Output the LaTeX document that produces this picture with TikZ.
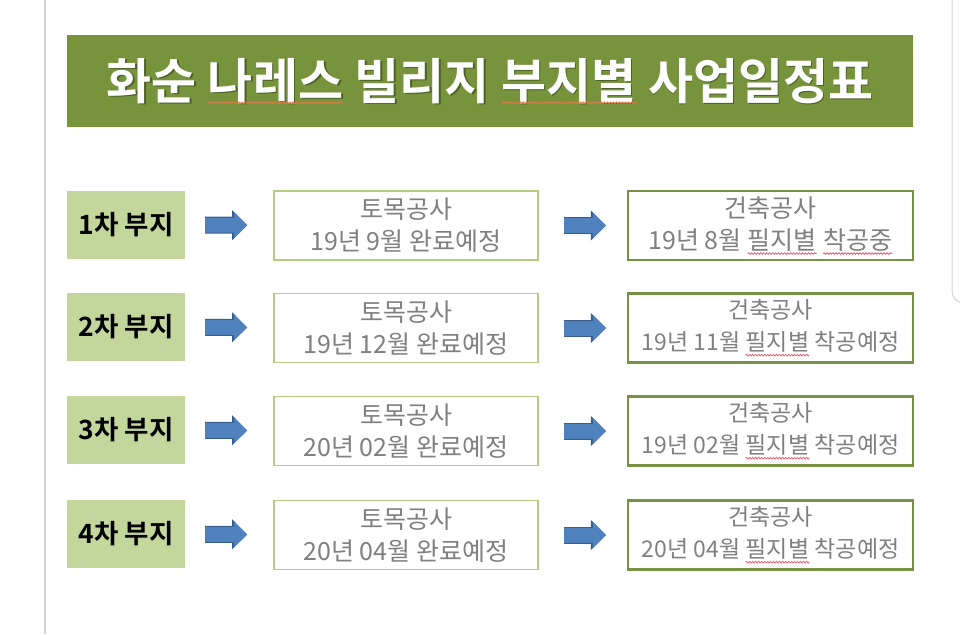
\documentclass[tikz,border=0pt]{standalone}
\usepackage{fontspec}
\setmainfont{Noto Sans CJK KR}[BoldFont={Noto Sans CJK KR Bold}]
\usetikzlibrary{arrows.meta, decorations.pathmorphing}
\definecolor{bannergreen}{RGB}{119,148,60}
\definecolor{sitegreen}{RGB}{195,214,155}
\definecolor{civilgreen}{RGB}{181,205,128}
\definecolor{buildgreen}{RGB}{120,146,68}
\definecolor{arrowblue}{RGB}{79,129,189}
\definecolor{arrowedge}{RGB}{56,93,138}
\definecolor{textgray}{RGB}{128,128,128}
\definecolor{spellred}{RGB}{232,90,110}
\definecolor{spellorange}{RGB}{226,120,70}
\definecolor{framegray}{RGB}{212,212,212}
\tikzset{
  wavebox/.style={draw=none, fill=none, minimum width=0pt, minimum height=0pt, inner sep=0pt, outer sep=0pt, align=left},
  waveline/.style={line width=0.8pt, decorate, decoration={snake, amplitude=0.8pt, segment length=3pt}},
}
\newcommand{\spellwave}[3]{\tikz[baseline=(w.base)]{\node[wavebox] (w) {#3};
  \draw[waveline, draw=#1] ([yshift=-#2]w.base west) -- ([yshift=-#2]w.base east);}}
\newcommand{\redwave}[1]{\spellwave{spellred}{4.5pt}{#1}}
\newcommand{\orangewave}[1]{\spellwave{spellorange}{3.5pt}{#1}}

\begin{document}
\begin{tikzpicture}[x=1pt, y=-1pt,
banner/.style={rectangle, fill=bannergreen, minimum width=846pt, minimum height=92pt, inner sep=0pt},
headline/.style={font=\bfseries\fontsize{49}{56}\selectfont, text=white, inner sep=0pt},
site/.style={rectangle, fill=sitegreen, minimum width=118pt, minimum height=68pt, inner sep=0pt, font=\bfseries\fontsize{26.5}{30}\selectfont},
civil/.style={rectangle, draw=civilgreen, line width=1.8pt, fill=white, minimum width=264pt, minimum height=69pt, inner sep=0pt, align=center, text=textgray, font=\fontsize{25}{32}\selectfont},
building/.style={civil, draw=buildgreen, line width=2.4pt, minimum width=285pt, font=\fontsize{23}{32}\selectfont},
flow/.style={line width=15pt, draw=arrowblue, -{Triangle[length=13pt, width=26pt, line width=0pt]},
  preaction={draw=arrowedge, line width=17pt, -{Triangle[length=15pt, width=30pt, line width=0pt]}}},
]
\useasboundingbox (0,0) rectangle (960,634);
\draw[framegray, line width=1.5pt] (45,0) -- (45,634);
\draw[framegray, line width=1pt, rounded corners=12pt] (952,-20) -- (952,303) -- (990,303);

\node[banner] (T) at (490,81) {};
\node[headline, text=black, opacity=0.35] at ([shift={(1.5,1.5)}]T.center) {화순 나레스 빌리지 부지별 사업일정표};
\node[headline] (H) at (T.center) {화순 \orangewave{나레스} 빌리지 \orangewave{부지별} 사업일정표};

\node[site] (S1) at (126,225) {1차 부지};
\node[civil] (C1) at (406,225.5) {토목공사\\19년 9월 완료예정};
\node[building, font=\fontsize{25}{32}\selectfont] (B1) at (770.5,225.5) {건축공사\\19년 8월 \redwave{필지별} \redwave{착공중}};
\draw[flow, shorten <=20pt, shorten >=26pt] (S1) -- (C1);
\draw[flow, shorten <=25pt, shorten >=21pt] (C1) -- (B1);

\node[site] (S2) at (126,327) {2차 부지};
\node[civil] (C2) at (406,328) {토목공사\\19년 12월 완료예정};
\node[building] (B2) at (770.5,328) {건축공사\\19년 11월 \redwave{필지별} 착공예정};
\draw[flow, shorten <=20pt, shorten >=26pt] (S2) -- (C2);
\draw[flow, shorten <=25pt, shorten >=21pt] (C2) -- (B2);

\node[site] (S3) at (126,430) {3차 부지};
\node[civil] (C3) at (406,431) {토목공사\\20년 02월 완료예정};
\node[building] (B3) at (770.5,431) {건축공사\\19년 02월 \redwave{필지별} 착공예정};
\draw[flow, shorten <=20pt, shorten >=26pt] (S3) -- (C3);
\draw[flow, shorten <=25pt, shorten >=21pt] (C3) -- (B3);

\node[site] (S4) at (126,534) {4차 부지};
\node[civil] (C4) at (406,535) {토목공사\\20년 04월 완료예정};
\node[building] (B4) at (770.5,535) {건축공사\\20년 04월 \redwave{필지별} 착공예정};
\draw[flow, shorten <=20pt, shorten >=26pt] (S4) -- (C4);
\draw[flow, shorten <=25pt, shorten >=21pt] (C4) -- (B4);
\end{tikzpicture}
\end{document}
